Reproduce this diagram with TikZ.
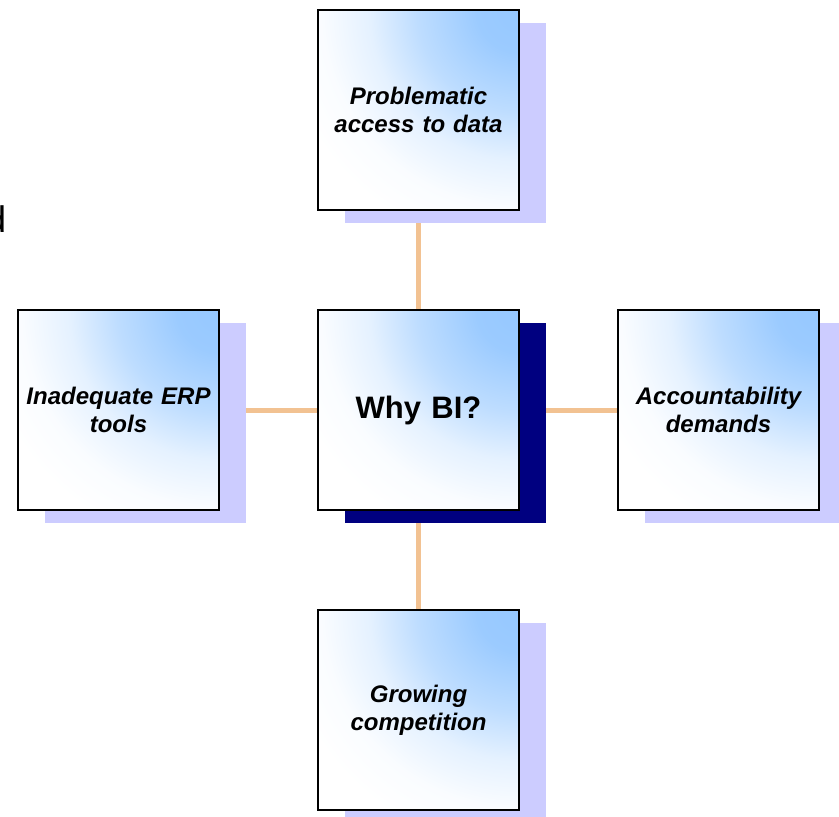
\documentclass[tikz,border=0pt]{standalone}
\usepackage{fontspec}
\usetikzlibrary{shadows,backgrounds}
\newfontfamily\arialfont{Liberation Sans}

\definecolor{boxblue}{RGB}{150,200,255}
\definecolor{lavshadow}{RGB}{204,204,255}
\definecolor{navyshadow}{RGB}{0,0,128}
\definecolor{linkorange}{RGB}{242,194,146}

% blue glow from the upper right corner of each box
% (on a circle the radius maps to 25bp)
\pgfdeclareradialshading{cornerglow}{\pgfpoint{0bp}{0bp}}{%
  color(0bp)=(boxblue); color(3.5bp)=(boxblue!95!white);
  color(8.5bp)=(boxblue!62!white); color(12.5bp)=(boxblue!25!white);
  color(16.5bp)=(boxblue!5!white); color(20bp)=(white); color(50bp)=(white)}

\tikzset{
  topicbox/.style={
    draw=black, line width=2pt,
    minimum width=201pt, minimum height=200pt, inner sep=0pt,
    align=center, text width=196pt,
    font=\arialfont\fontsize{24}{28}\selectfont\bfseries\itshape,
    general shadow={shadow xshift=27pt, shadow yshift=-13pt, fill=lavshadow},
    path picture={
      \fill[white] (path picture bounding box.south west)
        rectangle (path picture bounding box.north east);
      \shade[shading=cornerglow]
        (path picture bounding box.north east) circle (300pt);
    }
  },
  hubbox/.style={
    topicbox,
    font=\arialfont\fontsize{31}{36}\selectfont\bfseries,
    general shadow={shadow xshift=27pt, shadow yshift=-13pt, fill=navyshadow}
  },
  link/.style={draw=linkorange, line width=5pt}
}

\begin{document}
\begin{tikzpicture}[x=1pt, y=-1pt]
  \useasboundingbox (0,0) rectangle (839,817);

  % stray letter cut by the left edge
  \node[anchor=base east, inner sep=0pt,
        font=\arialfont\fontsize{37}{40}\selectfont] (stray) at (6.5,232) {d};

  \node[hubbox]   (hub)    at (418.5,410) {Why BI?};
  \node[topicbox] (access) at (418.5,110) {Problematic\\access to data};
  \node[topicbox] (erp)    at (118.5,410) {Inadequate ERP\\tools};
  \node[topicbox] (acct)   at (718.5,410) {Accountability\\demands};
  \node[topicbox] (comp)   at (418.5,710) {Growing\\competition};

  \begin{scope}[on background layer]
    \draw[link] (access) -- (hub);
    \draw[link] (erp) -- (hub);
    \draw[link] (hub) -- (acct);
    \draw[link] (hub) -- (comp);
  \end{scope}
\end{tikzpicture}
\end{document}
